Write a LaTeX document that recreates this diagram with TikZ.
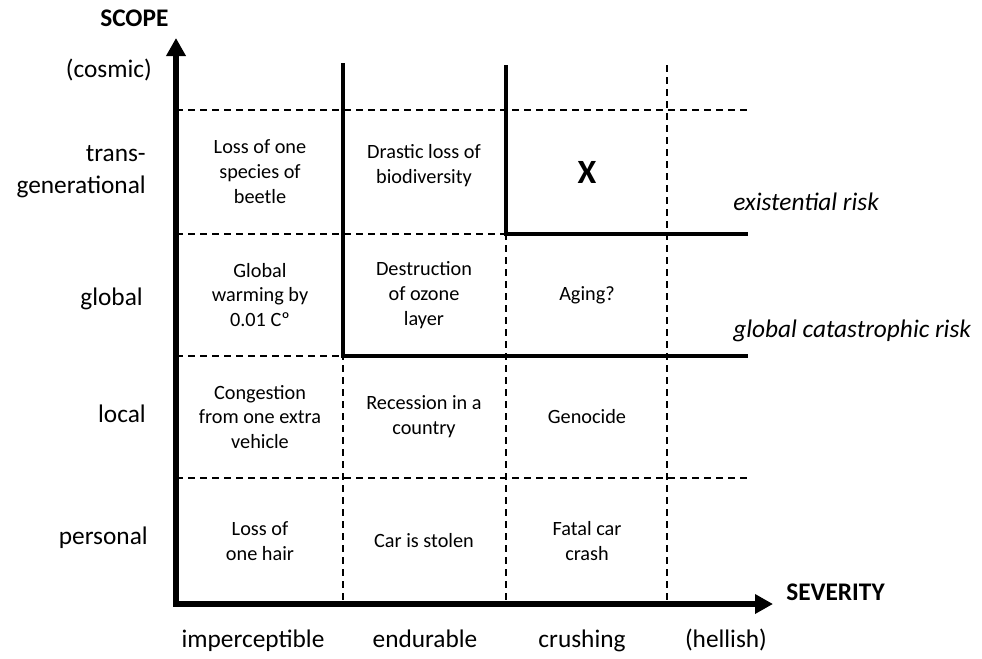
\documentclass[tikz,border=0pt]{standalone}
\usepackage{fontspec}
\setmainfont{Carlito}
\usetikzlibrary{arrows.meta}
\begin{document}
\begin{tikzpicture}[x=0.75pt, y=-0.75pt,
    gridline/.style={line width=1pt, dash pattern=on 5.5pt off 3.5pt},
    riskline/.style={line width=3.2pt, line join=miter},
    cell/.style={align=center, inner sep=0pt, font=\fontsize{15.2}{18.7}\selectfont},
    ticklab/.style={inner sep=0pt, font=\fontsize{19}{23.8}\selectfont},
    axislab/.style={inner sep=0pt, font=\fontsize{19}{23.8}\selectfont\bfseries},
    risklab/.style={inner sep=0pt, anchor=base west, font=\fontsize{19}{23.8}\selectfont\itshape}]
    \useasboundingbox (0,0) rectangle (982,658);
    \foreach \x in {343,506,667} \draw[gridline] (\x,65) -- (\x,604);
    \foreach \y in {110,234,356,478} \draw[gridline] (176,\y) -- (748,\y);
    \draw[riskline] (343,63) -- (343,356) -- (748,356);
    \draw[riskline] (506,65) -- (506,234) -- (748,234);
    \draw[line width=4.9pt, line join=miter, {Triangle[length=13.5pt,width=14pt]}-{Triangle[length=13.5pt,width=14pt]}]
        (176,38) -- (176,604) -- (773,604);
    \node[axislab, anchor=base west] (scope) at (100,26) {SCOPE};
    \node[axislab, anchor=base west] (severity) at (786,600) {SEVERITY};
    \node[ticklab, anchor=base east] (cosmic) at (152,77) {(cosmic)};
    \node[ticklab, anchor=east, align=right] (transgen) at (146,172) {trans-\\generational};
    \node[ticklab, anchor=base east] (global) at (143,305) {global};
    \node[ticklab, anchor=base east] (local) at (146,422) {local};
    \node[ticklab, anchor=base east] (personal) at (148,544) {personal};
    \node[ticklab, anchor=base] (imperc) at (253,647) {imperceptible};
    \node[ticklab, anchor=base] (endur) at (425,647) {endurable};
    \node[ticklab, anchor=base] (crush) at (582,647) {crushing};
    \node[ticklab, anchor=base] (hell) at (726,647) {(hellish)};
    \node[risklab] (exrisk) at (733,210) {existential risk};
    \node[risklab] (gcrisk) at (733,337) {global catastrophic risk};
    \node[cell] (beetle) at (260,172) {Loss of one\\species of\\beetle};
    \node[cell] (biodiv) at (424,166) {Drastic loss of\\biodiversity};
    \node[inner sep=0pt, anchor=base, font=\fontsize{25.5}{30}\selectfont\bfseries] (xcell) at (587,183) {X};
    \node[cell] (warming) at (260,295) {Global\\warming by\\0.01 Cº};
    \node[cell] (ozone) at (424,295) {Destruction\\of ozone\\layer};
    \node[cell] (aging) at (587,295) {Aging?};
    \node[cell] (congest) at (260,417) {Congestion\\from one extra\\vehicle};
    \node[cell] (recess) at (424,417) {Recession in a\\country};
    \node[cell] (genocide) at (587,417) {Genocide};
    \node[cell] (hair) at (260,541) {Loss of\\one hair};
    \node[cell] (stolen) at (424,541) {Car is stolen};
    \node[cell] (crash) at (587,541) {Fatal car\\crash};
\end{tikzpicture}
\end{document}
